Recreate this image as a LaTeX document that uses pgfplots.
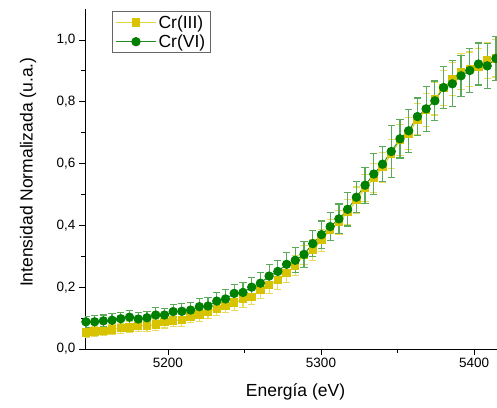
\documentclass[border=0pt]{standalone}
\usepackage{pgfplots}
\pgfplotsset{compat=1.18}
\usepackage{pgfplotstable}
\usepackage{fontspec}
\setmainfont{Liberation Sans}
\definecolor{cryel}{RGB}{215,195,0}
\definecolor{cryelline}{RGB}{228,212,60}
\definecolor{cryelerr}{RGB}{232,218,95}
\definecolor{crgreen}{RGB}{0,128,0}
\definecolor{crgreenline}{RGB}{30,140,30}
\definecolor{crgreenerr}{RGB}{90,170,90}

\pgfplotstableread{
x y e
5146.4 0.053 0.015
5152.1 0.056 0.016
5157.8 0.059 0.015
5163.5 0.063 0.017
5169.2 0.067 0.016
5174.9 0.070 0.018
5180.6 0.074 0.017
5186.3 0.076 0.019
5192.0 0.079 0.018
5197.7 0.088 0.020
5203.4 0.092 0.019
5209.1 0.094 0.021
5214.8 0.105 0.020
5220.5 0.112 0.022
5226.2 0.121 0.021
5231.9 0.130 0.023
5237.6 0.139 0.022
5243.3 0.150 0.024
5249.0 0.161 0.026
5254.7 0.169 0.025
5260.4 0.191 0.028
5266.1 0.207 0.027
5271.8 0.223 0.030
5277.5 0.245 0.029
5283.2 0.270 0.032
5288.9 0.304 0.031
5294.6 0.320 0.034
5300.3 0.352 0.036
5306.0 0.385 0.035
5311.7 0.410 0.038
5317.4 0.443 0.040
5323.1 0.482 0.042
5328.8 0.520 0.044
5334.5 0.553 0.046
5340.2 0.588 0.048
5345.9 0.631 0.046
5351.6 0.676 0.050
5357.3 0.697 0.052
5363.0 0.743 0.050
5368.7 0.773 0.054
5374.4 0.809 0.052
5380.1 0.844 0.056
5385.8 0.873 0.054
5391.5 0.897 0.058
5397.2 0.905 0.056
5402.9 0.912 0.060
5408.6 0.933 0.058
5414.3 0.940 0.060
}\crthree

\pgfplotstableread{
x y e
5146.4 0.088 0.018
5152.1 0.088 0.020
5157.8 0.091 0.019
5163.5 0.093 0.021
5169.2 0.098 0.020
5174.9 0.103 0.022
5180.6 0.097 0.021
5186.3 0.101 0.020
5192.0 0.110 0.023
5197.7 0.110 0.022
5203.4 0.121 0.024
5209.1 0.122 0.026
5214.8 0.126 0.025
5220.5 0.137 0.027
5226.2 0.139 0.029
5231.9 0.155 0.028
5237.6 0.162 0.030
5243.3 0.180 0.029
5249.0 0.183 0.032
5254.7 0.200 0.031
5260.4 0.213 0.034
5266.1 0.236 0.036
5271.8 0.251 0.035
5277.5 0.274 0.038
5283.2 0.287 0.040
5288.9 0.306 0.042
5294.6 0.341 0.041
5300.3 0.370 0.044
5306.0 0.396 0.046
5311.7 0.421 0.048
5317.4 0.452 0.054
5323.1 0.491 0.050
5328.8 0.530 0.058
5334.5 0.566 0.067
5340.2 0.598 0.056
5345.9 0.639 0.083
5351.6 0.680 0.062
5357.3 0.706 0.070
5363.0 0.752 0.060
5368.7 0.777 0.072
5374.4 0.803 0.064
5380.1 0.846 0.068
5385.8 0.858 0.074
5391.5 0.884 0.066
5397.2 0.901 0.070
5402.9 0.922 0.068
5408.6 0.916 0.072
5414.3 0.940 0.070
}\crsix

\begin{document}
\begin{tikzpicture}
\begin{axis}[
  scale only axis,
  width=412pt, height=340pt,
  xmin=5145.8, xmax=5415, ymin=0, ymax=1.1,
  axis x line*=bottom, axis y line*=left,
  axis line style={black, line width=0.9pt, -},
  xtick={5200,5300,5400},
  ytick={0,0.2,0.4,0.6,0.8,1.0},
  minor x tick num=1, minor y tick num=1,
  tick align=outside,
  major tick length=6pt, minor tick length=3.5pt,
  tick style={black, line width=0.8pt},
  /pgf/number format/assume math mode=true,
  tick label style={font=\fontsize{13.5}{16}\selectfont},
  xticklabel style={/pgf/number format/1000 sep={}},
  yticklabel style={/pgf/number format/.cd, use comma, fixed, fixed zerofill, precision=1},
  xlabel={Energía (eV)},
  ylabel={Intensidad Normalizada (u.a.)},
  label style={font=\fontsize{17.5}{20}\selectfont},
  xlabel style={at={(axis description cs:0.511,-0.127)}, anchor=center},
  ylabel style={at={(axis description cs:-0.138,0.52)}, anchor=center},
  legend style={at={(axis description cs:0.0655,0.994)}, anchor=north west,
    draw=gray!80!black, line width=0.8pt, font=\fontsize{17.5}{20}\selectfont,
    inner xsep=3pt, inner ysep=2pt, row sep=1pt},
  legend cell align=left,
  legend image code/.code={
    \draw[mark repeat=2,mark phase=2,#1] plot coordinates {(0pt,0pt) (20pt,0pt) (40pt,0pt)};
  },
]
\addplot[color=cryelline, line width=1.2pt,
  mark=square*, mark size=3.6pt, mark options={fill=cryel, draw=cryel, solid},
  error bars/.cd, y dir=both, y explicit,
  error bar style={draw=cryelerr, line width=1.2pt},
  error mark options={rotate=90, mark size=3.6pt, draw=cryelerr, line width=1.1pt}]
  table[x=x, y=y, y error=e] {\crthree};
\addlegendentry{Cr(III)}
\addplot[color=crgreenline, line width=0.9pt,
  mark=*, mark size=4.2pt, mark options={fill=crgreen, draw=crgreen, solid},
  error bars/.cd, y dir=both, y explicit,
  error bar style={draw=crgreenerr, line width=1.2pt},
  error mark options={rotate=90, mark size=3.6pt, draw=crgreenerr, line width=1.1pt}]
  table[x=x, y=y, y error=e] {\crsix};
\addlegendentry{Cr(VI)}
\end{axis}
\pgfresetboundingbox
\path[use as bounding box] ([xshift=-85pt,yshift=-58pt]current axis.south west) rectangle ([yshift=9pt]current axis.north east);
\end{tikzpicture}
\end{document}
